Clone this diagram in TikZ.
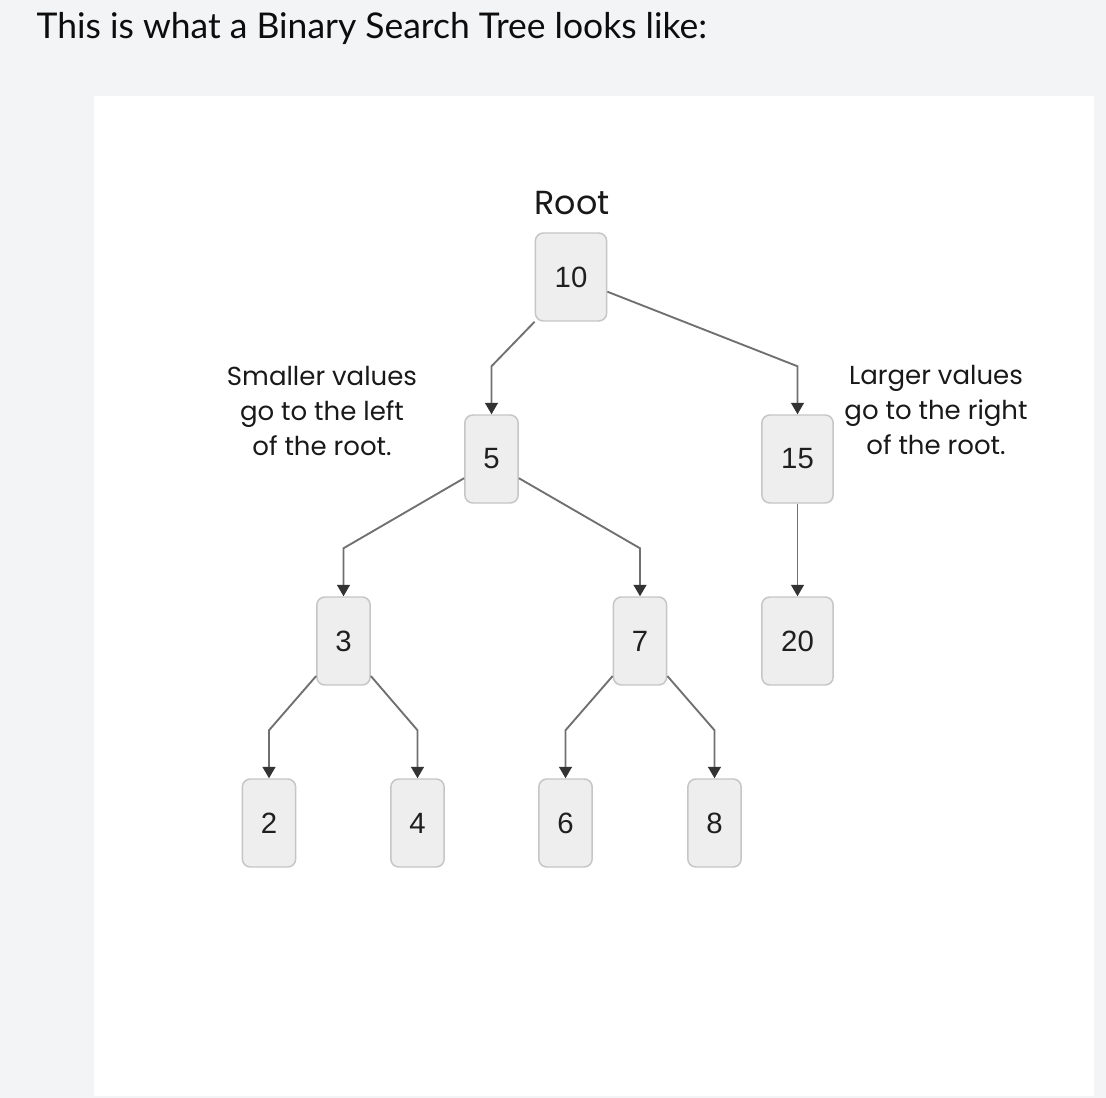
\documentclass[tikz,border=0pt]{standalone}
\usepackage{fontspec}
\setmainfont{Lato}
\newfontfamily\notefont{Poppins}
\newfontfamily\numfont{Liberation Sans}
\usetikzlibrary{arrows.meta,calc}

\definecolor{pagebg}{HTML}{F3F4F6}
\definecolor{boxfill}{HTML}{EEEEEE}
\definecolor{boxline}{HTML}{C6C6C6}
\definecolor{linkgray}{HTML}{707070}
\definecolor{tipdark}{HTML}{333333}

\begin{document}
\begin{tikzpicture}[x=0.75pt,y=-0.75pt,
  >={Triangle[length=8.5pt,width=9.5pt,color=tipdark]},
  bstnode/.style={draw=boxline,fill=boxfill,line width=1.1pt,rounded corners=6pt,
    minimum width=40pt,minimum height=66pt,inner sep=0pt,
    font=\numfont\fontsize{22}{26}\selectfont,text=black!88},
  widebox/.style={minimum width=53.5pt},
  link/.style={->,draw=linkgray,line width=1.4pt},
  sidenote/.style={font=\notefont\fontsize{19.5}{26.25}\selectfont,align=center,text=black!90}]

\def\drop{48}

% page and panel
\fill[pagebg] (0,0) rectangle (1106,1098);
\fill[white] (94,96) rectangle (1094,1096);
\useasboundingbox (0,0) rectangle (1106,1098);

\node[anchor=base west,font=\fontsize{26.6}{30}\selectfont,text=black!95] (title) at (32,39)
  {This is what a Binary Search Tree looks like:};

% tree
\node[bstnode,widebox] (n10) at (571,277) {10};
\node[bstnode] (n5) at (491.5,459) {5};
\node[bstnode,widebox] (n15) at (797.5,459) {15};
\node[bstnode] (n3) at (343.5,641) {3};
\node[bstnode] (n7) at (640,641) {7};
\node[bstnode,widebox] (n20) at (797.5,641) {20};
\node[bstnode] (n2) at (269,823) {2};
\node[bstnode] (n4) at (417.5,823) {4};
\node[bstnode] (n6) at (565.5,823) {6};
\node[bstnode] (n8) at (714.5,823) {8};

\node[font=\notefont\fontsize{25}{28}\selectfont,text=black!90] (rootlabel) at (572,203) {Root};
\node[sidenote] (lefttext) at (322,411) {Smaller values\\go to the left\\of the root.};
\node[sidenote] (righttext) at (936,410) {Larger values\\go to the right\\of the root.};

% connectors
\draw[link] (n10.south west) -- ($(n5.north)+(0,-\drop)$) -- (n5.north);
\draw[link] (n10.-22) -- ($(n15.north)+(0,-\drop)$) -- (n15.north);
\draw[link] (n5.215) -- ($(n3.north)+(0,-\drop)$) -- (n3.north);
\draw[link] (n5.-35) -- ($(n7.north)+(0,-\drop)$) -- (n7.north);
\draw[link] (n15) -- (n20);
\draw[link] (n3.232) -- ($(n2.north)+(0,-\drop)$) -- (n2.north);
\draw[link] (n3.-52) -- ($(n4.north)+(0,-\drop)$) -- (n4.north);
\draw[link] (n7.232) -- ($(n6.north)+(0,-\drop)$) -- (n6.north);
\draw[link] (n7.-52) -- ($(n8.north)+(0,-\drop)$) -- (n8.north);

\end{tikzpicture}
\end{document}
